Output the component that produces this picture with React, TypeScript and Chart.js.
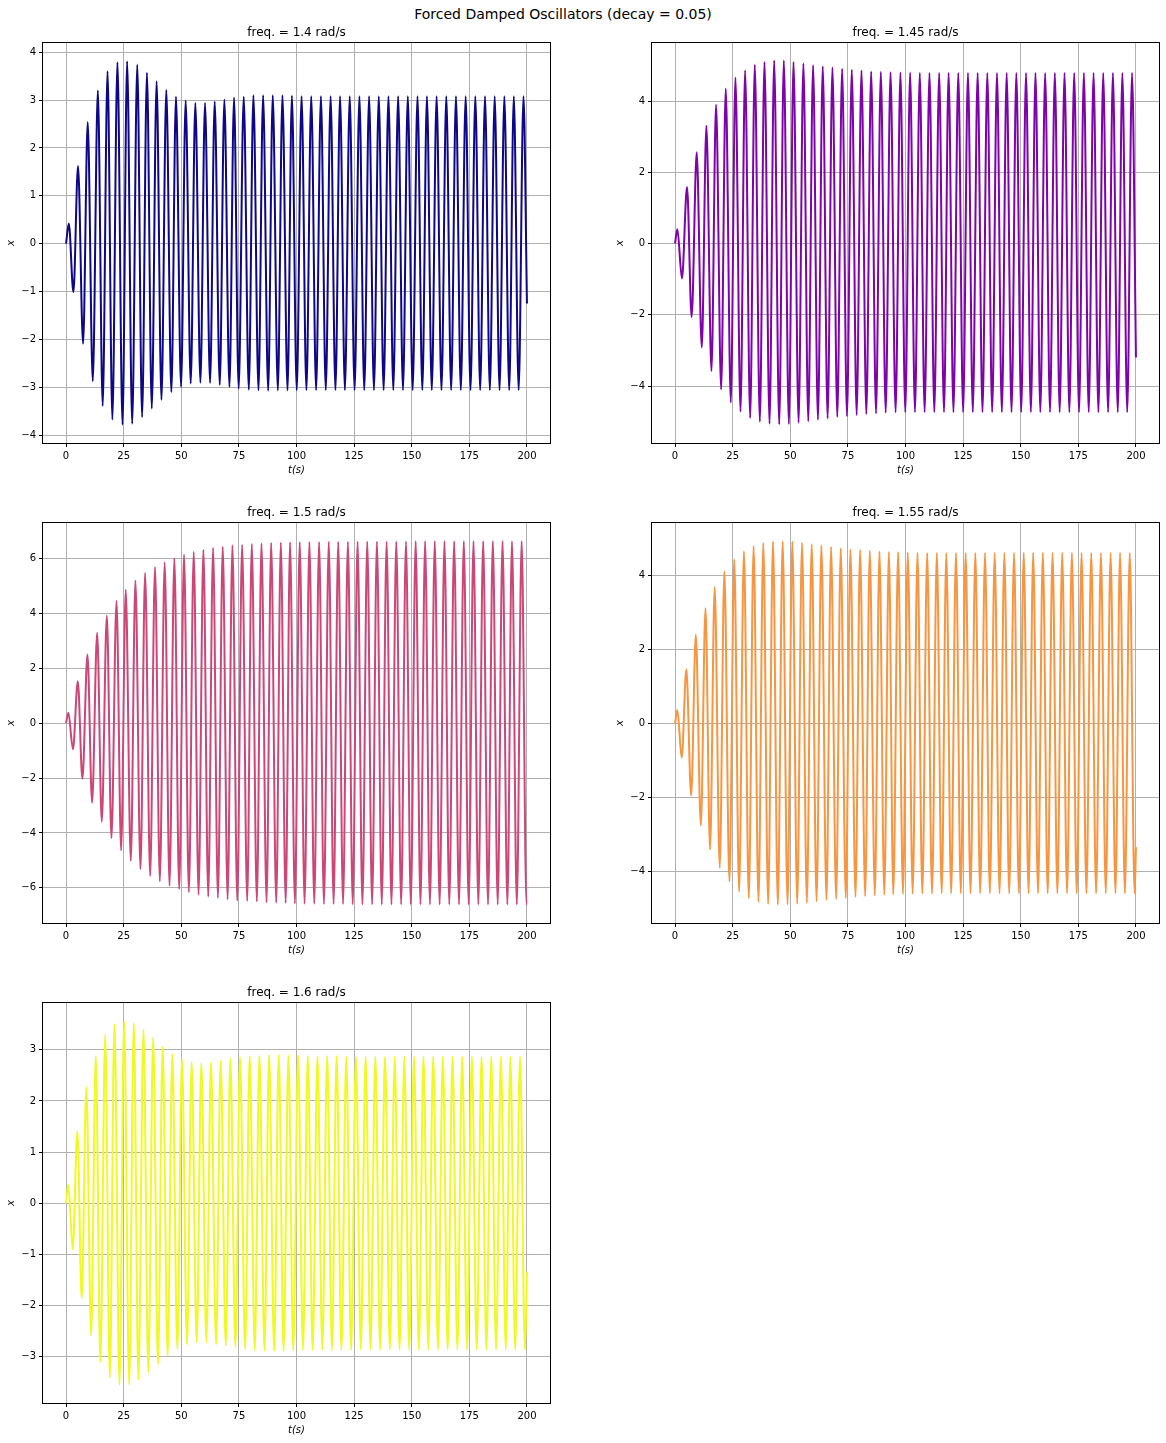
import { useEffect, useRef } from "react";
import { Chart, registerables } from "chart.js";

Chart.register(...registerables);

const FONT = "'DejaVu Sans', 'Liberation Sans', sans-serif";
Chart.defaults.font.family = FONT;

// ---------------- data (extrema: [t, x]) ----------------
const figureTitle = "Forced Damped Oscillators (decay = 0.05)";
const freqLabels = [
  "freq. = 1.4 rad/s",
  "freq. = 1.45 rad/s",
  "freq. = 1.5 rad/s",
  "freq. = 1.55 rad/s",
  "freq. = 1.6 rad/s",
];
const xTicks = [0, 25, 50, 75, 100, 125, 150, 175, 200];
const xLimits = [-10, 210];
const yTickSets = [
  [-4, -3, -2, -1, 0, 1, 2, 3, 4],
  [-4, -2, 0, 2, 4],
  [-6, -4, -2, 0, 2, 4, 6],
  [-4, -2, 0, 2, 4],
  [-3, -2, -1, 0, 1, 2, 3],
];
const yLimits = [
  [-4.16, 4.19],
  [-5.6, 5.63],
  [-7.28, 7.29],
  [-5.39, 5.41],
  [-3.906, 3.916],
];
const xLabel = "t(s)";
const yLabel = "x";

const osc140: [number, number][] = [
  [0, 0], [1.2, 0.42], [3.2, -1.01], [5.2, 1.62], [7.4, -2.09], [9.4, 2.54], [11.6, -2.87], [13.8, 3.2],
  [15.9, -3.39], [18.0, 3.6], [20.1, -3.67], [22.3, 3.79], [24.5, -3.78], [26.5, 3.81], [28.7, -3.76],
  [30.9, 3.74], [33.0, -3.62], [35.1, 3.57], [37.2, -3.44], [39.3, 3.39], [41.4, -3.26], [43.5, 3.21],
  [45.7, -3.1], [47.7, 3.07], [49.9, -2.99], [51.9, 2.99], [54.1, -2.92], [56.1, 2.94], [58.3, -2.9],
  [60.3, 2.94], [62.5, -2.91], [64.5, 2.97], [66.7, -2.95], [68.7, 3.01], [70.9, -2.99], [72.9, 3.05],
  [74.9, -3.03], [77.1, 3.07], [79.3, -3.05], [81.3, 3.1], [83.5, -3.06], [85.5, 3.1], [87.7, -3.07],
  [89.7, 3.1], [91.9, -3.06], [93.9, 3.1], [96.1, -3.06], [98.0, 3.09], [100.1, -3.06], [102.2, 3.08],
  [104.3, -3.06], [106.4, 3.08], [108.5, -3.06], [110.6, 3.08], [112.7, -3.06], [114.8, 3.08],
  [116.9, -3.06], [118.9, 3.08], [121.0, -3.06], [123.1, 3.08], [125.2, -3.06], [127.3, 3.08],
  [129.4, -3.06], [131.5, 3.08], [133.6, -3.06], [135.7, 3.08], [137.8, -3.06], [139.9, 3.08],
  [142.0, -3.06], [144.1, 3.08], [146.2, -3.06], [148.3, 3.08], [150.4, -3.06], [152.5, 3.08],
  [154.6, -3.06], [156.6, 3.08], [158.7, -3.06], [160.8, 3.08], [162.9, -3.06], [165.0, 3.08],
  [167.1, -3.06], [169.2, 3.08], [171.3, -3.06], [173.4, 3.08], [175.5, -3.06], [177.6, 3.08],
  [179.7, -3.06], [181.8, 3.08], [183.9, -3.06], [186.0, 3.08], [188.1, -3.06], [190.2, 3.08],
  [192.3, -3.06], [194.3, 3.08], [196.4, -3.06], [198.5, 3.08], [200, -1.25],
];

const osc145: [number, number][] = [
  [0, 0], [1.0, 0.4], [3.0, -0.98], [5.2, 1.59], [7.2, -2.06], [9.4, 2.56], [11.6, -2.92], [13.6, 3.31],
  [15.8, -3.58], [17.8, 3.9], [20.0, -4.1], [22.0, 4.35], [24.2, -4.46], [26.2, 4.66], [28.4, -4.72],
  [30.4, 4.86], [32.6, -4.9], [34.6, 5.02], [36.8, -5.0], [38.8, 5.1], [41.0, -5.06], [43.0, 5.14],
  [45.2, -5.08], [47.2, 5.14], [49.4, -5.07], [51.4, 5.1], [53.6, -5.03], [55.7, 5.06], [57.8, -4.99],
  [59.9, 5.01], [62.0, -4.95], [64.1, 4.98], [66.2, -4.91], [68.3, 4.94], [70.4, -4.87], [72.5, 4.91],
  [74.6, -4.85], [76.7, 4.88], [78.8, -4.82], [80.9, 4.86], [83.0, -4.79], [85.1, 4.83], [87.2, -4.77],
  [89.3, 4.82], [91.4, -4.75], [93.5, 4.81], [95.7, -4.74], [97.8, 4.8], [99.9, -4.74], [102.0, 4.8],
  [104.1, -4.74], [106.2, 4.79], [108.3, -4.74], [110.4, 4.79], [112.5, -4.74], [114.6, 4.79],
  [116.7, -4.74], [118.7, 4.79], [120.8, -4.74], [122.9, 4.79], [125.0, -4.74], [127.1, 4.79],
  [129.2, -4.74], [131.3, 4.79], [133.4, -4.74], [135.5, 4.79], [137.6, -4.74], [139.7, 4.79],
  [141.8, -4.74], [143.9, 4.79], [146.0, -4.74], [148.1, 4.79], [150.2, -4.74], [152.3, 4.79],
  [154.4, -4.74], [156.4, 4.79], [158.5, -4.74], [160.6, 4.79], [162.7, -4.74], [164.8, 4.79],
  [166.9, -4.74], [169.0, 4.79], [171.1, -4.74], [173.2, 4.79], [175.3, -4.74], [177.4, 4.79],
  [179.5, -4.74], [181.6, 4.79], [183.7, -4.74], [185.8, 4.79], [187.9, -4.74], [190.0, 4.79],
  [192.1, -4.74], [194.1, 4.79], [196.2, -4.74], [198.3, 4.79], [200, -3.2],
];

const osc150: [number, number][] = [
  [0, 0], [1.0, 0.38], [3.0, -0.95], [5.1, 1.53], [7.1, -2.02], [9.3, 2.5], [11.3, -2.9], [13.5, 3.29],
  [15.5, -3.59], [17.7, 3.92], [19.7, -4.18], [21.9, 4.45], [23.9, -4.64], [25.9, 4.86], [28.1, -5.02],
  [30.1, 5.2], [32.3, -5.32], [34.3, 5.47], [36.5, -5.57], [38.6, 5.69], [40.7, -5.76], [42.8, 5.86],
  [44.9, -5.92], [47.0, 6.0], [49.1, -6.05], [51.2, 6.14], [53.3, -6.16], [55.4, 6.24], [57.5, -6.25],
  [59.6, 6.32], [61.7, -6.32], [63.8, 6.38], [65.9, -6.37], [68.0, 6.43], [70.1, -6.42], [72.2, 6.48],
  [74.3, -6.46], [76.4, 6.5], [78.6, -6.48], [80.6, 6.53], [82.8, -6.5], [84.8, 6.55], [87.0, -6.53],
  [89.0, 6.57], [91.2, -6.54], [93.2, 6.58], [95.3, -6.55], [97.2, 6.59], [99.3, -6.57], [101.4, 6.6],
  [103.5, -6.58], [105.6, 6.6], [107.7, -6.58], [109.8, 6.6], [111.9, -6.59], [114.0, 6.61],
  [116.1, -6.59], [118.1, 6.61], [120.2, -6.59], [122.3, 6.61], [124.4, -6.6], [126.5, 6.62],
  [128.6, -6.6], [130.7, 6.62], [132.8, -6.6], [134.9, 6.62], [137.0, -6.61], [139.1, 6.62],
  [141.2, -6.61], [143.3, 6.62], [145.4, -6.61], [147.5, 6.62], [149.6, -6.61], [151.7, 6.63],
  [153.8, -6.61], [155.8, 6.63], [157.9, -6.61], [160.0, 6.63], [162.1, -6.61], [164.2, 6.63],
  [166.3, -6.61], [168.4, 6.63], [170.5, -6.61], [172.6, 6.63], [174.7, -6.61], [176.8, 6.63],
  [178.9, -6.61], [181.0, 6.63], [183.1, -6.61], [185.2, 6.63], [187.3, -6.61], [189.4, 6.63],
  [191.5, -6.61], [193.5, 6.63], [195.6, -6.61], [197.7, 6.63], [199.8, -6.61], [200, -6.6],
];

const osc155: [number, number][] = [
  [0, 0], [1.0, 0.36], [2.9, -0.93], [4.9, 1.46], [7.0, -1.95], [9.0, 2.39], [11.2, -2.76], [13.2, 3.11],
  [15.2, -3.41], [17.2, 3.68], [19.4, -3.9], [21.4, 4.11], [23.6, -4.27], [25.7, 4.43], [27.8, -4.54],
  [29.9, 4.65], [32.0, -4.72], [34.1, 4.79], [36.2, -4.82], [38.3, 4.87], [40.4, -4.88], [42.5, 4.91],
  [44.6, -4.9], [46.7, 4.92], [48.8, -4.89], [50.9, 4.91], [53.0, -4.87], [55.1, 4.88], [57.2, -4.84],
  [59.3, 4.84], [61.4, -4.81], [63.5, 4.81], [65.7, -4.77], [67.7, 4.77], [69.9, -4.74], [71.9, 4.73],
  [74.1, -4.72], [76.1, 4.7], [78.3, -4.69], [80.3, 4.68], [82.5, -4.67], [84.5, 4.66], [86.7, -4.65],
  [88.7, 4.64], [90.8, -4.63], [92.8, 4.63], [94.7, -4.62], [96.8, 4.62], [98.9, -4.61], [101.0, 4.61],
  [103.1, -4.6], [105.2, 4.61], [107.3, -4.6], [109.4, 4.6], [111.5, -4.6], [113.6, 4.6], [115.7, -4.59],
  [117.7, 4.6], [119.8, -4.59], [121.9, 4.6], [124.0, -4.59], [126.1, 4.6], [128.2, -4.59], [130.3, 4.6],
  [132.4, -4.59], [134.5, 4.6], [136.6, -4.59], [138.7, 4.6], [140.8, -4.59], [142.9, 4.6], [145.0, -4.59],
  [147.1, 4.6], [149.2, -4.59], [151.3, 4.61], [153.4, -4.59], [155.4, 4.61], [157.5, -4.59],
  [159.6, 4.61], [161.7, -4.59], [163.8, 4.61], [165.9, -4.59], [168.0, 4.61], [170.1, -4.59],
  [172.2, 4.6], [174.3, -4.59], [176.4, 4.6], [178.5, -4.59], [180.6, 4.6], [182.7, -4.59], [184.8, 4.6],
  [186.9, -4.59], [189.0, 4.6], [191.1, -4.59], [193.1, 4.6], [195.2, -4.59], [197.3, 4.6], [199.4, -4.59],
  [200, -3.34],
];

const osc160: [number, number][] = [
  [0, 0], [1.0, 0.36], [2.9, -0.9], [4.9, 1.41], [6.8, -1.86], [8.8, 2.27], [10.9, -2.59], [12.9, 2.88],
  [14.9, -3.1], [17.0, 3.29], [19.0, -3.41], [21.0, 3.5], [23.2, -3.55], [25.2, 3.56], [27.4, -3.55],
  [29.4, 3.52], [31.4, -3.45], [33.6, 3.4], [35.7, -3.31], [37.8, 3.24], [39.9, -3.15], [41.9, 3.06],
  [44.1, -2.98], [46.1, 2.92], [48.3, -2.85], [50.3, 2.82], [52.5, -2.76], [54.5, 2.76], [56.7, -2.72],
  [58.7, 2.74], [60.9, -2.72], [62.9, 2.76], [65.1, -2.76], [67.1, 2.79], [69.3, -2.79], [71.3, 2.83],
  [73.5, -2.82], [75.5, 2.86], [77.7, -2.85], [79.7, 2.88], [81.9, -2.87], [83.9, 2.89], [86.1, -2.88],
  [88.1, 2.9], [90.3, -2.89], [92.3, 2.9], [94.4, -2.89], [96.5, 2.89], [98.6, -2.88], [100.7, 2.89],
  [102.8, -2.87], [104.9, 2.88], [107.0, -2.87], [109.1, 2.88], [111.2, -2.87], [113.3, 2.88],
  [115.4, -2.87], [117.4, 2.88], [119.5, -2.87], [121.6, 2.87], [123.7, -2.87], [125.8, 2.87],
  [127.9, -2.86], [130.0, 2.87], [132.1, -2.86], [134.2, 2.87], [136.3, -2.86], [138.4, 2.87],
  [140.5, -2.86], [142.6, 2.87], [144.7, -2.86], [146.8, 2.87], [148.9, -2.86], [151.0, 2.87],
  [153.1, -2.86], [155.1, 2.87], [157.2, -2.86], [159.3, 2.87], [161.4, -2.86], [163.5, 2.87],
  [165.6, -2.86], [167.7, 2.87], [169.8, -2.86], [171.9, 2.87], [174.0, -2.86], [176.1, 2.87],
  [178.2, -2.86], [180.3, 2.87], [182.4, -2.86], [184.5, 2.87], [186.6, -2.86], [188.7, 2.87],
  [190.8, -2.86], [192.8, 2.87], [194.9, -2.86], [197.0, 2.87], [199.1, -2.86], [200, -1.34],
];

const seriesList = [osc140, osc145, osc150, osc155, osc160];

// ---------------- styling / layout ----------------
const lineColors = ["#0d0887", "#7e03a8", "#cc4778", "#f89540", "#f0f921"];
const panelOrigins = [
  [43, 43],
  [652, 43],
  [43, 523],
  [652, 523],
  [43, 1003],
];
const AXES_W = 507;
const AXES_H = 400;
const PAD_L = 44;
const PAD_T = 44;
const PAD_R = 12;
const PAD_B = 40;
const CANVAS_W = PAD_L + AXES_W + PAD_R;
const CANVAS_H = PAD_T + AXES_H + PAD_B;

const fmt = (v: number) => (v < 0 ? "\u2212" + Math.abs(v) : String(v));

const framePlugin = {
  id: "frame",
  afterDatasetsDraw(chart: any) {
    const { ctx, chartArea } = chart;
    ctx.save();
    ctx.strokeStyle = "#000";
    ctx.lineWidth = 1;
    ctx.strokeRect(
      chartArea.left - 0.5,
      chartArea.top - 0.5,
      chartArea.right - chartArea.left + 1,
      chartArea.bottom - chartArea.top + 1
    );
    ctx.restore();
  },
};

function Panel({ idx }: { idx: number }) {
  const ref = useRef<HTMLCanvasElement | null>(null);
  useEffect(() => {
    if (!ref.current) return;
    const chart = new Chart(ref.current, {
      type: "line",
      data: {
        datasets: [
          {
            data: seriesList[idx].map(([t, x]) => ({ x: t, y: x })),
            borderColor: lineColors[idx],
            borderWidth: 2,
            pointRadius: 0,
            fill: false,
            cubicInterpolationMode: "monotone",
          } as any,
        ],
      },
      options: {
        animation: false,
        responsive: false,
        events: [],
        layout: { padding: { left: 0, right: PAD_R, top: 0, bottom: 0 } },
        plugins: {
          legend: { display: false },
          tooltip: { enabled: false },
          title: {
            display: true,
            text: freqLabels[idx],
            fullSize: false,
            color: "#000",
            font: { family: FONT, size: 12, weight: "normal", lineHeight: 1 },
            padding: { top: 28, bottom: 4 },
          },
        },
        scales: {
          x: {
            type: "linear",
            min: xLimits[0],
            max: xLimits[1],
            afterBuildTicks: (s: any) => {
              s.ticks = xTicks.map((v) => ({ value: v }));
            },
            afterFit: (s: any) => {
              s.height = PAD_B;
            },
            ticks: {
              color: "#000",
              font: { family: FONT, size: 10 },
              padding: 3,
              maxRotation: 0,
              autoSkip: false,
              callback: (v: any) => fmt(Number(v)),
            },
            grid: {
              color: "#b0b0b0",
              lineWidth: 1,
              tickColor: "#000",
              tickLength: 4,
              drawTicks: true,
            },
            border: { display: false },
            title: {
              display: true,
              text: xLabel,
              color: "#000",
              font: { family: FONT, size: 10, style: "italic", lineHeight: 1.2 },
              padding: { top: 0, bottom: 7 },
            },
          },
          y: {
            type: "linear",
            min: yLimits[idx][0],
            max: yLimits[idx][1],
            afterBuildTicks: (s: any) => {
              s.ticks = yTickSets[idx].map((v) => ({ value: v }));
            },
            afterFit: (s: any) => {
              s.width = PAD_L;
            },
            ticks: {
              color: "#000",
              font: { family: FONT, size: 10 },
              padding: 3,
              autoSkip: false,
              callback: (v: any) => fmt(Number(v)),
            },
            grid: {
              color: "#b0b0b0",
              lineWidth: 1,
              tickColor: "#000",
              tickLength: 4,
              drawTicks: true,
            },
            border: { display: false },
            title: {
              display: true,
              text: yLabel,
              color: "#000",
              font: { family: FONT, size: 10, style: "italic", lineHeight: 1.2 },
              padding: { top: 6, bottom: 0 },
            },
          },
        },
      } as any,
      plugins: [framePlugin],
    });
    return () => chart.destroy();
  }, [idx]);

  const [left, top] = panelOrigins[idx];
  return (
    <canvas
      ref={ref}
      width={CANVAS_W}
      height={CANVAS_H}
      style={{
        position: "absolute",
        left: left - PAD_L,
        top: top - PAD_T,
        width: CANVAS_W,
        height: CANVAS_H,
      }}
    />
  );
}

export default function App() {
  return (
    <div
      style={{
        position: "absolute",
        left: 0,
        top: 0,
        width: 1166,
        height: 1443,
        overflow: "hidden",
        background: "#fff",
      }}
    >
      <div
        style={{
          position: "absolute",
          left: 263,
          top: 5,
          width: 600,
          textAlign: "center",
          fontFamily: FONT,
          fontSize: 14,
          lineHeight: "18px",
          color: "#000",
          whiteSpace: "nowrap",
        }}
      >
        {figureTitle}
      </div>
      {seriesList.map((_, i) => (
        <Panel key={i} idx={i} />
      ))}
    </div>
  );
}
